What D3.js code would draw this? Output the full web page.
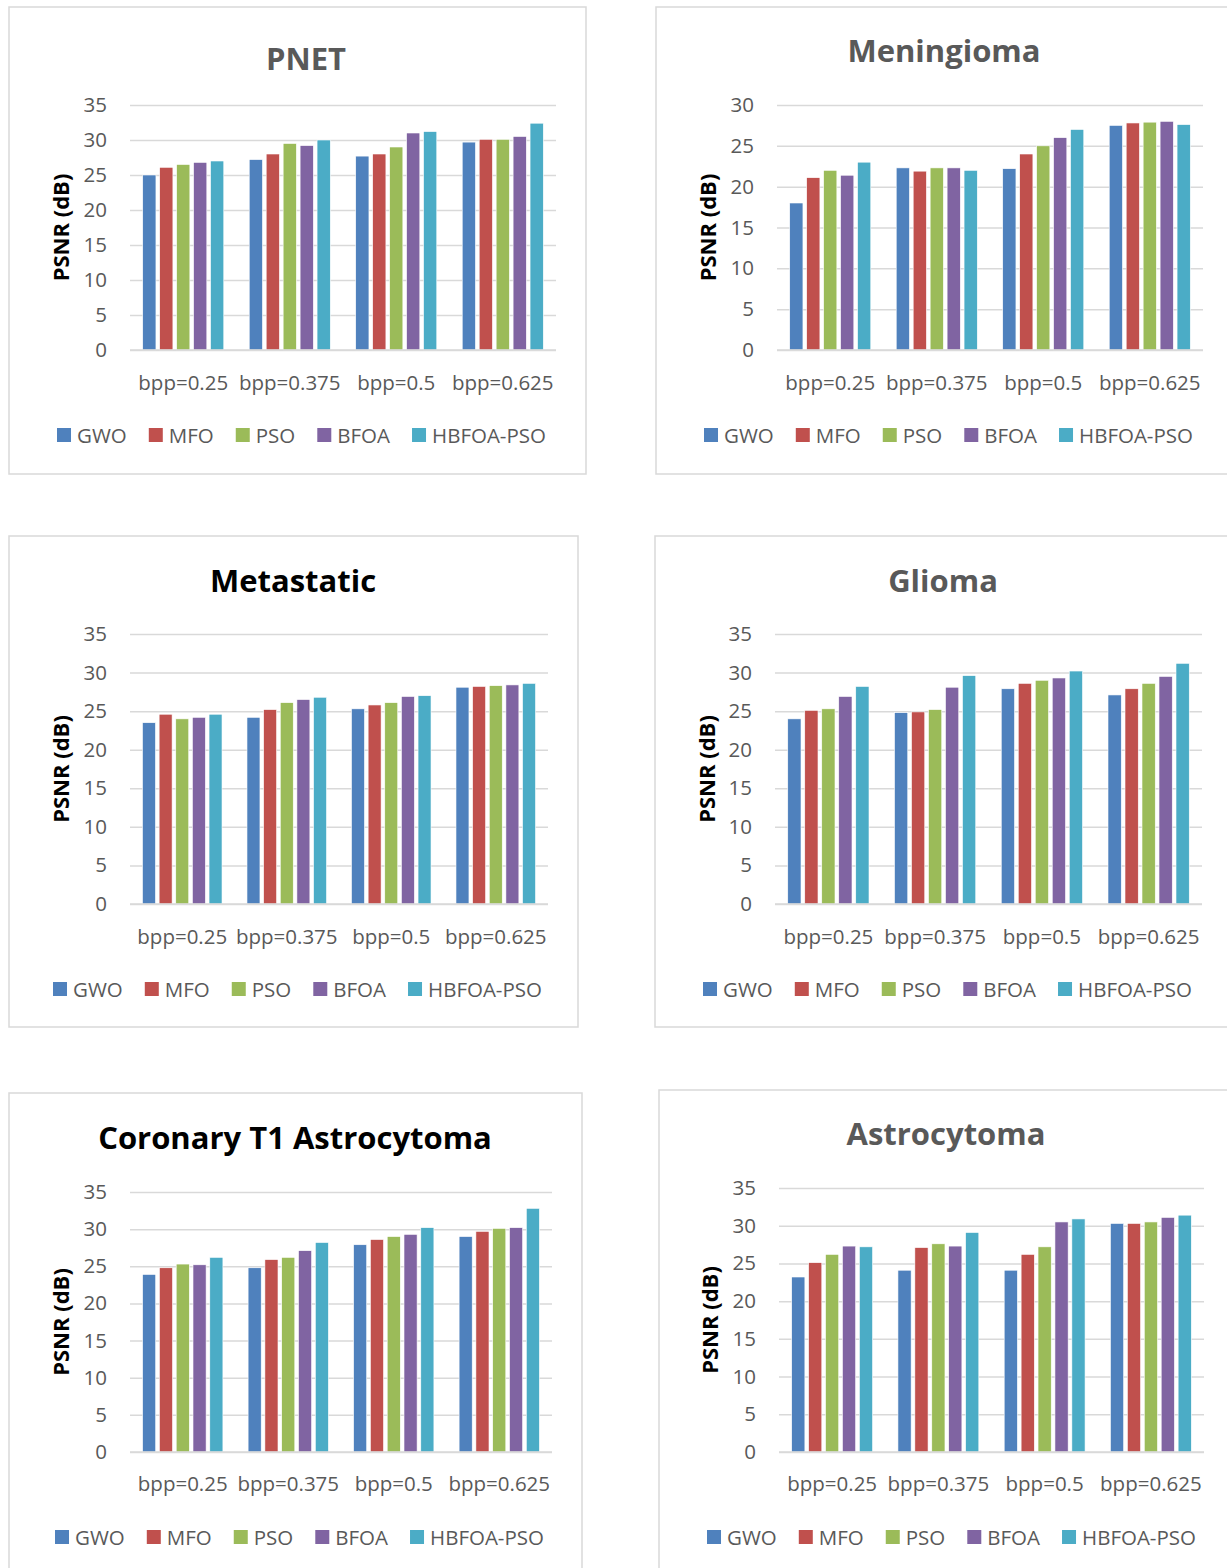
<!DOCTYPE html>
<html>
<head>
<meta charset="utf-8">
<script src="https://cdn.jsdelivr.net/npm/d3@7"></script>
<style>
  html, body { margin: 0; padding: 0; background: #fff; }
  svg { display: block; }
  text { font-family: "Open Sans", "Noto Sans", sans-serif; }
</style>
</head>
<body>
<svg id="fig" width="1227" height="1568"></svg>
<script>
// Compression levels on the x axis
const categories = ["bpp=0.25", "bpp=0.375", "bpp=0.5", "bpp=0.625"];
// Algorithms compared in every chart
const seriesNames = ["GWO", "MFO", "PSO", "BFOA", "HBFOA-PSO"];
const seriesColors = ["#4F81BD", "#C0504D", "#9BBB59", "#8064A2", "#4BACC6"];
const yTicks35 = [0, 5, 10, 15, 20, 25, 30, 35];
const yTicks30 = [0, 5, 10, 15, 20, 25, 30];

// PSNR (dB), one row per algorithm, one column per bpp level
const pnetValues = [
  [25.0, 27.2, 27.7, 29.7],
  [26.1, 28.0, 28.0, 30.1],
  [26.5, 29.5, 29.0, 30.1],
  [26.8, 29.2, 31.0, 30.5],
  [27.0, 30.0, 31.2, 32.4]
];
const meningiomaValues = [
  [18.0, 22.3, 22.2, 27.5],
  [21.1, 21.9, 24.0, 27.8],
  [22.0, 22.3, 25.0, 27.9],
  [21.4, 22.3, 26.0, 28.0],
  [23.0, 22.0, 27.0, 27.6]
];
const metastaticValues = [
  [23.5, 24.2, 25.3, 28.1],
  [24.6, 25.2, 25.8, 28.2],
  [24.0, 26.1, 26.1, 28.3],
  [24.2, 26.5, 26.9, 28.4],
  [24.6, 26.8, 27.0, 28.6]
];
const gliomaValues = [
  [24.0, 24.8, 27.9, 27.1],
  [25.1, 24.9, 28.6, 27.9],
  [25.3, 25.2, 29.0, 28.6],
  [26.9, 28.1, 29.3, 29.5],
  [28.2, 29.6, 30.2, 31.2]
];
const coronaryValues = [
  [23.9, 24.8, 27.9, 29.0],
  [24.8, 25.9, 28.6, 29.7],
  [25.3, 26.2, 29.0, 30.1],
  [25.2, 27.1, 29.3, 30.2],
  [26.2, 28.2, 30.2, 32.8]
];
const astrocytomaValues = [
  [23.2, 24.1, 24.1, 30.3],
  [25.1, 27.1, 26.2, 30.3],
  [26.2, 27.6, 27.2, 30.5],
  [27.3, 27.3, 30.5, 31.1],
  [27.2, 29.1, 30.9, 31.4]
];

// Panel placement on the page
const panels = [
  { title: "PNET", titleColor: "#595959", values: pnetValues, ticks: yTicks35,
    box: [9, 7, 577, 467], plot: [130, 556, 105, 350], titleY: 58, titleX: 306, catY: 382, legendY: 435, ylabX: 60 },
  { title: "Meningioma", titleColor: "#595959", values: meningiomaValues, ticks: yTicks30,
    box: [656, 7, 600, 467], plot: [777, 1203, 105, 350], titleY: 50, titleX: 944, catY: 382, legendY: 435, ylabX: 707 },
  { title: "Metastatic", titleColor: "#000000", values: metastaticValues, ticks: yTicks35,
    box: [9, 536, 569, 491], plot: [130, 548, 634, 904], titleY: 580, titleX: 293, catY: 936, legendY: 989, ylabX: 60 },
  { title: "Glioma", titleColor: "#595959", values: gliomaValues, ticks: yTicks35,
    box: [655, 536, 600, 491], plot: [775, 1202, 634, 904], titleY: 580, titleX: 943, catY: 936, legendY: 989, ylabX: 706 },
  { title: "Coronary T1 Astrocytoma", titleColor: "#000000", values: coronaryValues, ticks: yTicks35,
    box: [9, 1093, 573, 500], plot: [130, 552, 1192, 1452], titleY: 1137, titleX: 295, catY: 1483, legendY: 1537, ylabX: 60 },
  { title: "Astrocytoma", titleColor: "#595959", values: astrocytomaValues, ticks: yTicks35,
    box: [659, 1090, 600, 500], plot: [779, 1204, 1188, 1452], titleY: 1133, titleX: 946, catY: 1483, legendY: 1537, ylabX: 709 }
];

const svg = d3.select("#fig");

panels.forEach(p => {
  const g = svg.append("g");
  const [bx, by, bw, bh] = p.box;
  const [x0, x1, yTop, yBot] = p.plot;

  // Chart frame
  g.append("rect")
    .attr("x", bx).attr("y", by).attr("width", bw).attr("height", bh)
    .attr("fill", "#fff").attr("stroke", "#d9d9d9").attr("stroke-width", 1.5);

  // Title
  g.append("text")
    .attr("x", p.titleX).attr("y", p.titleY)
    .attr("text-anchor", "middle").attr("dominant-baseline", "central")
    .attr("font-size", 31).attr("font-weight", 700)
    .attr("fill", p.titleColor)
    .text(p.title);

  const yMax = d3.max(p.ticks);
  const y = d3.scaleLinear().domain([0, yMax]).range([yBot, yTop]);
  const xBand = d3.scaleBand().domain(categories).range([x0, x1]).padding(0);
  const xInner = d3.scaleBand().domain(seriesNames)
    .range([0, xBand.bandwidth()]).paddingInner(0.22).paddingOuter(0.75);

  // Gridlines and tick labels via a left axis
  const yAxis = d3.axisLeft(y).tickValues(p.ticks).tickSize(-(x1 - x0)).tickPadding(23).tickFormat(d3.format("d"));
  const ya = g.append("g").attr("transform", `translate(${x0},0)`).call(yAxis);
  ya.select(".domain").remove();
  ya.selectAll(".tick line").attr("stroke", "#d9d9d9").attr("stroke-width", 1.5);
  ya.selectAll(".tick text").attr("fill", "#595959").attr("font-size", 20.5)
    .attr("font-family", "'Open Sans', sans-serif");

  // Bars
  p.values.forEach((row, si) => {
    g.append("g").selectAll("rect").data(row).join("rect")
      .attr("x", (d, ci) => xBand(categories[ci]) + xInner(seriesNames[si]))
      .attr("y", d => y(d))
      .attr("width", xInner.bandwidth())
      .attr("height", d => yBot - y(d))
      .attr("fill", seriesColors[si])
      .attr("stroke", "#ffffff").attr("stroke-width", 0.6);
  });

  // Baseline
  g.append("line").attr("x1", x0).attr("x2", x1).attr("y1", yBot).attr("y2", yBot)
    .attr("stroke", "#d9d9d9").attr("stroke-width", 1.5);

  // Category labels
  const xAxis = d3.axisBottom(xBand).tickSize(0).tickPadding(0);
  const xa = g.append("g").attr("transform", `translate(0,${p.catY})`).call(xAxis);
  xa.select(".domain").remove();
  xa.selectAll(".tick text").attr("fill", "#595959").attr("font-size", 20.5)
    .attr("font-family", "'Open Sans', sans-serif")
    .attr("dy", null).attr("y", 0).attr("dominant-baseline", "central");

  // Y axis title
  g.append("text")
    .attr("transform", `translate(${p.ylabX},${(yTop + yBot) / 2}) rotate(-90)`)
    .attr("text-anchor", "middle").attr("dominant-baseline", "central")
    .attr("font-size", 22).attr("font-weight", 700).attr("fill", "#000")
    .text("PSNR (dB)");

  // Legend, centred in the frame
  const lg = g.append("g");
  const items = lg.selectAll("g").data(seriesNames).join("g");
  items.append("rect").attr("width", 14).attr("height", 14)
    .attr("y", p.legendY - 7).attr("fill", (d, i) => seriesColors[i]);
  items.append("text").attr("x", 20).attr("y", p.legendY)
    .attr("dominant-baseline", "central").attr("font-size", 20.5).attr("fill", "#595959")
    .text(d => d);
  let cx = 0;
  items.each(function () {
    const w = d3.select(this).select("text").node().getComputedTextLength();
    d3.select(this).attr("transform", `translate(${cx},0)`);
    cx += 20 + w + 22;
  });
  const total = cx - 22;
  const legendCenter = p.box[0] + Math.min(p.box[2], 577) / 2 + 4;
  lg.attr("transform", `translate(${legendCenter - total / 2},0)`);
});
</script>
</body>
</html>
